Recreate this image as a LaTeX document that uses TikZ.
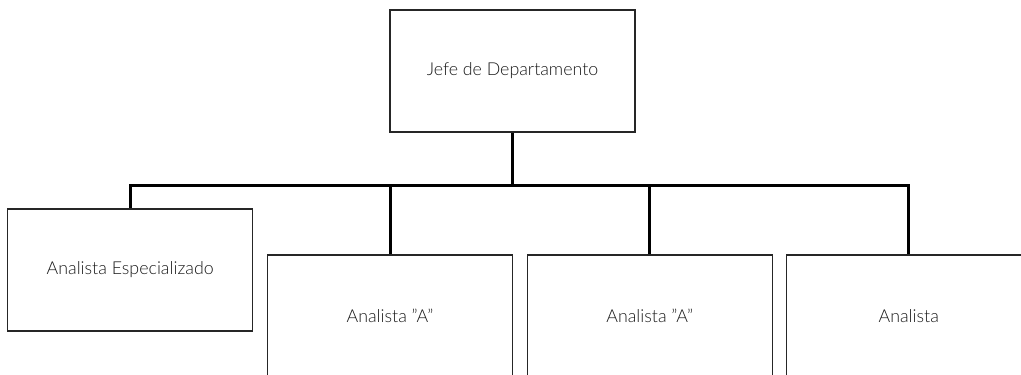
\documentclass[tikz,border=0pt]{standalone}
\usepackage{fontspec}
\setmainfont{Lato}[UprightFont=* Light]
\begin{document}
\begin{tikzpicture}[x=1pt,y=-1pt,
  box/.style={draw=black!85,line width=1.3pt,rectangle,minimum width=245pt,minimum height=122pt,inner sep=0pt,font=\fontsize{17.8}{21}\selectfont,text=black!90},
  link/.style={draw=black,line width=3pt,line join=miter}]
\useasboundingbox (0,0) rectangle (1021,375);
\clip (0,0) rectangle (1021,375);
\node[box] (top) at (512.5,71) {Jefe de Departamento};
\node[box] (esp) at (130.2,270) {Analista Especializado};
\node[box] (a1) at (390,316) {Analista {\char34}A{\char34}};
\node[box] (a2) at (649.7,316) {Analista {\char34}A{\char34}};
\node[box] (a3) at (908.8,316) {Analista};
\coordinate (bus) at (512.5,185);
\draw[link] (top.south) -- (bus);
\draw[link] (bus) -| (esp.north);
\draw[link] (bus) -| (a1.north);
\draw[link] (bus) -| (a2.north);
\draw[link] (bus) -| (a3.north);
\end{tikzpicture}
\end{document}
